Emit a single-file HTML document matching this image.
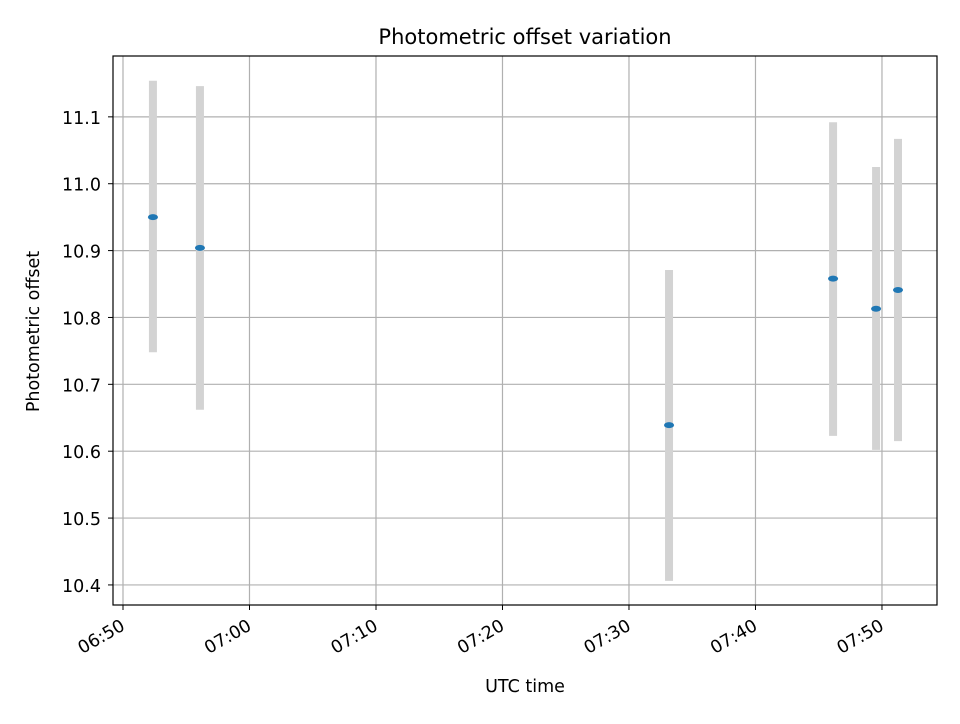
<!DOCTYPE html>
<html><head><meta charset="utf-8"><style>
body{margin:0;background:#fff;font-family:"DejaVu Sans","Liberation Sans",sans-serif}
</style></head><body>
<svg id="chart" width="960" height="720" xmlns="http://www.w3.org/2000/svg"></svg>
<script>
const times = ["06:52:22","06:56:05","07:33:10","07:46:08","07:49:32","07:51:16"];
const offsets = [10.950,10.904,10.639,10.858,10.813,10.841];
const lowerBounds = [10.748,10.662,10.406,10.623,10.602,10.615];
const upperBounds = [11.154,11.146,10.871,11.092,11.025,11.067];
const yTicks = [10.4,10.5,10.6,10.7,10.8,10.9,11.0,11.1];
const xTickLabels = ["06:50","07:00","07:10","07:20","07:30","07:40","07:50"];

const NS="http://www.w3.org/2000/svg";
const svg=document.getElementById('chart');
const L=113,R=937,T=56,B=605;
function mins(s){const p=s.split(':').map(Number);return p[0]*60+p[1]+(p[2]||0)/60;}
const x0=mins("06:49:12.6"), x1=mins("07:54:21");
const y0=10.370, y1=11.191;
const xs=v=>L+(v-x0)/(x1-x0)*(R-L);
const ys=v=>B-(v-y0)/(y1-y0)*(B-T);
function el(tag,attrs,text){const e=document.createElementNS(NS,tag);for(const k in attrs)e.setAttribute(k,attrs[k]);if(text!==undefined)e.textContent=text;svg.appendChild(e);return e;}

yTicks.forEach(v=>{const g=el('line',{x1:L,x2:R,y1:ys(v),y2:ys(v),stroke:'#b0b0b0','stroke-width':1.2});
});
xTickLabels.forEach(t=>{const x=xs(mins(t));const g=el('line',{x1:x,x2:x,y1:T,y2:B,stroke:'#b0b0b0','stroke-width':1.2});
});

times.forEach((t,i)=>{const x=xs(mins(t));
const e=el('line',{x1:x,x2:x,y1:ys(upperBounds[i]),y2:ys(lowerBounds[i]),stroke:'#d3d3d3','stroke-width':8});

const p=el('ellipse',{cx:x,cy:ys(offsets[i]),rx:5,ry:3,fill:'#1f77b4'});
});

const f=el('rect',{x:L,y:T,width:R-L,height:B-T,fill:'none',stroke:'#000','stroke-width':1.2});


yTicks.forEach(v=>{const y=ys(v);el('line',{x1:L-5,x2:L,y1:y,y2:y,stroke:'#000'});
const t=el('text',{x:L-12,y:y+7,'text-anchor':'end','font-size':17.5},v.toFixed(1));
});
xTickLabels.forEach(s=>{const x=xs(mins(s));el('line',{x1:x,x2:x,y1:B,y2:B+5,stroke:'#000'});
const ax=x+3, ay=B+24;
const t=el('text',{x:ax,y:ay,'text-anchor':'end','font-size':17.5,transform:`rotate(-30 ${ax} ${ay})`},s);
});

let t=el('text',{x:(L+R)/2,y:44,'text-anchor':'middle','font-size':21},'Photometric offset variation');

t=el('text',{x:(L+R)/2,y:692,'text-anchor':'middle','font-size':17.5},'UTC time');

t=el('text',{x:39,y:(T+B)/2+1,'text-anchor':'middle','font-size':17.5,transform:`rotate(-90 39 ${(T+B)/2+1})`},'Photometric offset');

</script>
</body></html>
